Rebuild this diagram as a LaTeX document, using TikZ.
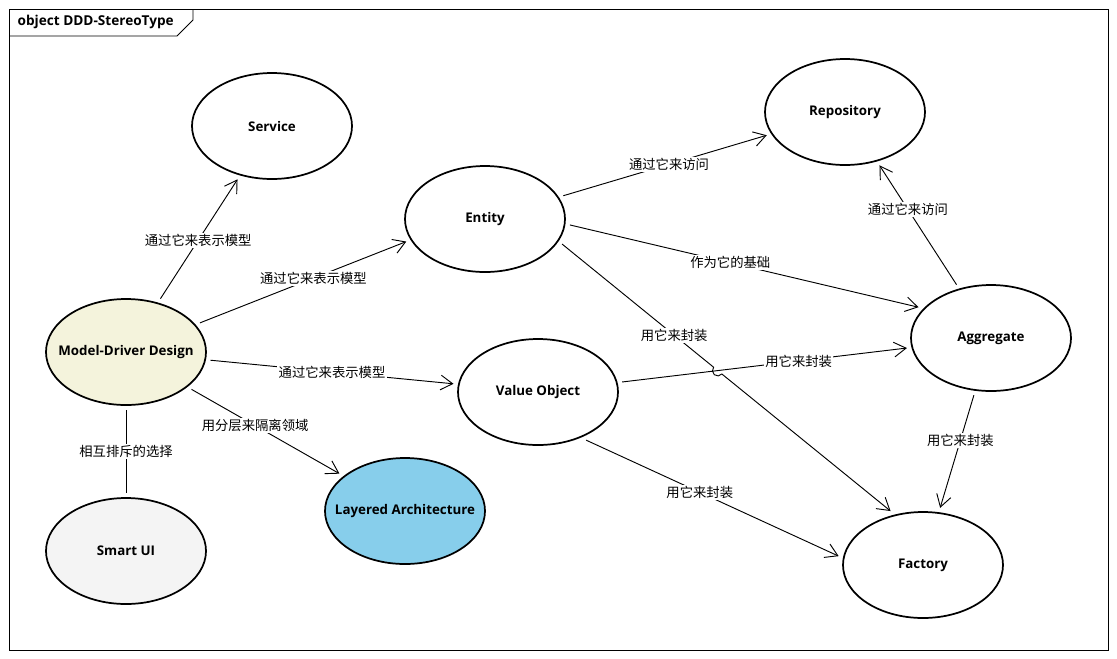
\documentclass[tikz,border=0pt]{standalone}
\usepackage{fontspec}
\setmainfont{Open Sans}
\newfontfamily\cjk{Noto Sans CJK SC}
\usetikzlibrary{shapes.geometric,arrows.meta,calc,intersections}
\definecolor{mddfill}{RGB}{244,243,220}
\definecolor{uifill}{RGB}{244,244,244}
\definecolor{layfill}{RGB}{135,206,235}

\begin{document}
\begin{tikzpicture}[x=0.75pt, y=-0.75pt,
  every node/.style={font=\fontsize{10}{12}\selectfont\bfseries},
  obj/.style={ellipse, draw, line width=1.3pt, fill=white, minimum width=120pt,
    minimum height=79.5pt, inner sep=0pt, inner xsep=-30pt, outer sep=4pt},
  e/.style={line width=0.7pt, -{Straight Barb[length=9pt,width=11pt]}},
  lbl/.style={fill=white, inner sep=1pt, font=\cjk\fontsize{10}{12}\selectfont}
]
\useasboundingbox (0,0) rectangle (1117,658);

% --- frame and title tab ---
\draw[line width=0.7pt] (9,9) rectangle (1108,650);
\draw[line width=0.7pt] (9,36) -- (177,36) -- (193,20) -- (193,9);
\node[anchor=west, font=\fontsize{10.2}{12}\selectfont\bfseries] (title) at (13,22) {object DDD-StereoType};

% --- model side ---
\node[obj] (service) at (272,126) {Service};
\node[obj, fill=mddfill] (mdd) at (126,352) {Model-Driver Design};
\node[obj, fill=uifill] (smartui) at (126,551) {Smart UI};
\node[obj, fill=layfill] (layered) at (405,511) {Layered Architecture};

% --- building blocks ---
\node[obj] (entity) at (485,219) {Entity};
\node[obj] (vo) at (538,392) {Value Object};
\node[obj] (repo) at (845,112) {Repository};
\node[obj] (agg) at (991,338) {Aggregate};
\node[obj] (factory) at (923,565) {Factory};

% --- from model-driver design ---
\draw[e] (mdd) -- node[lbl, pos=0.49] {通过它来表示模型} (service);
\draw[e] (mdd) -- node[lbl, pos=0.55] {通过它来表示模型} (entity.196);
\draw[e] (mdd) -- node[lbl, pos=0.5] {通过它来表示模型} (vo);
\draw[e] (mdd) -- node[lbl, pos=0.43] {用分层来隔离领域} (layered);
\draw[line width=0.7pt] (mdd) -- node[lbl, pos=0.5] {相互排斥的选择} (smartui);

% --- between building blocks ---
\draw[e] (entity) -- node[lbl, pos=0.52] {通过它来访问} (repo);
\draw[e] (entity.-4) -- node[lbl, pos=0.46] {作为它的基础} (agg.157);
\draw[e] (vo) -- node[lbl, pos=0.62] {用它来封装} (agg);
\draw[e] (vo.-45) -- node[lbl, pos=0.45] {用它来封装} (factory.174);
\draw[e] (agg) -- node[lbl, pos=0.63] {通过它来访问} (repo);
\draw[e] (agg) -- node[lbl, pos=0.4] {用它来封装} (factory);

% entity -> factory jumps over vo -> agg
\path[name path=ef] (entity.-18) -- (factory.121);
\path[name path=va] (vo) -- (agg);
\path[name intersections={of=ef and va, by=cx}];
\draw[e] (entity.-18) -- node[lbl, pos=0.74] {用它来封装} ($(cx)!4pt!(entity.-18)$)
  arc[start angle=140.6, end angle=320.6, radius=4pt] -- (factory.121);

\end{tikzpicture}
\end{document}
